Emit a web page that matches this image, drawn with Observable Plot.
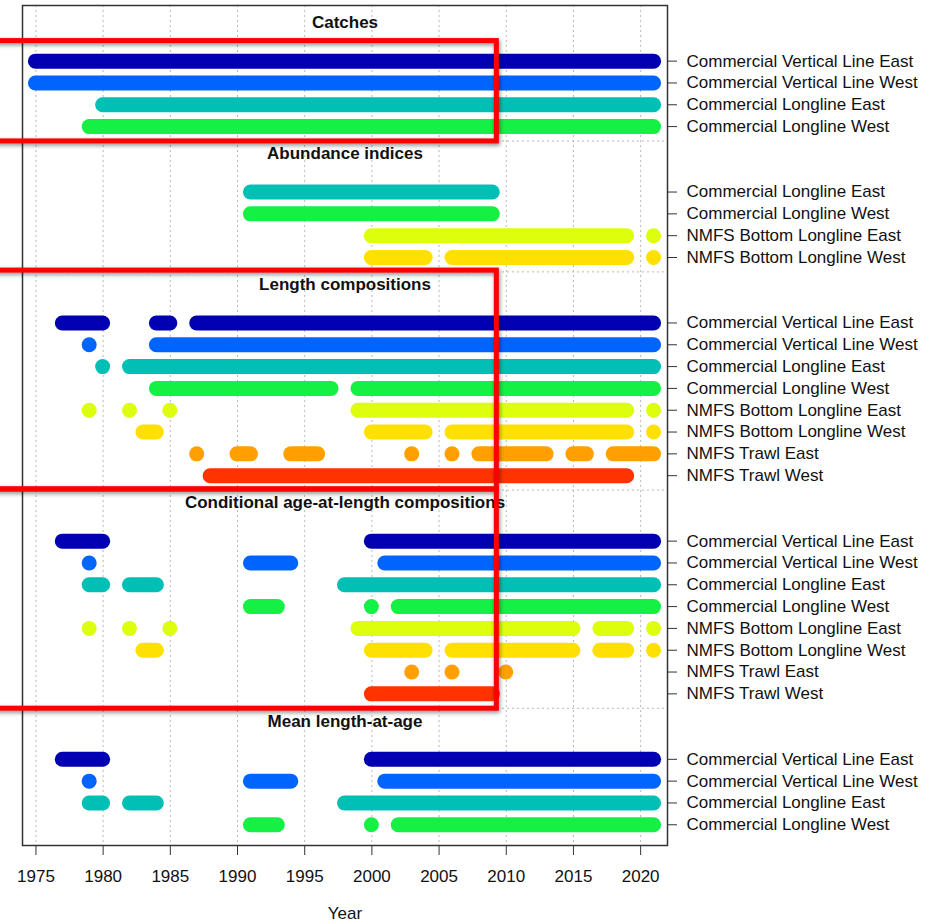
<!DOCTYPE html>
<html>
<head>
<meta charset="utf-8">
<script src="https://cdn.jsdelivr.net/npm/d3@7"></script>
<script src="https://cdn.jsdelivr.net/npm/@observablehq/plot@0.6"></script>
<style>
  html, body { margin: 0; padding: 0; background: #fff; }
  #chart svg { display: block; }
</style>
</head>
<body>
<div id="chart"></div>
<script>
// ---- Data ----
const fleets = [
  "Commercial Vertical Line East",
  "Commercial Vertical Line West",
  "Commercial Longline East",
  "Commercial Longline West",
  "NMFS Bottom Longline East",
  "NMFS Bottom Longline West",
  "NMFS Trawl East",
  "NMFS Trawl West"
];
const fleetColors = ["#0000B2", "#0064FF", "#00BFB4", "#14F044", "#DDFF0D", "#FFE000", "#FFA000", "#FF3300"];

const sectionTitles = [
  "Catches",
  "Abundance indices",
  "Length compositions",
  "Conditional age-at-length compositions",
  "Mean length-at-age"
];
// fleets (by index) listed in each section, top to bottom
const sectionFleets = [
  [0, 1, 2, 3],
  [2, 3, 4, 5],
  [0, 1, 2, 3, 4, 5, 6, 7],
  [0, 1, 2, 3, 4, 5, 6, 7],
  [0, 1, 2, 3]
];

// runs of years with data: [fleet index, first year, last year]
const catchRuns = [
  [0, 1975, 2021], [1, 1975, 2021], [2, 1980, 2021], [3, 1979, 2021]
];
const abundanceRuns = [
  [2, 1991, 2009], [3, 1991, 2009],
  [4, 2000, 2019], [4, 2021, 2021],
  [5, 2000, 2004], [5, 2006, 2019], [5, 2021, 2021]
];
const lengthRuns = [
  [0, 1977, 1980], [0, 1984, 1985], [0, 1987, 2021],
  [1, 1979, 1979], [1, 1984, 2021],
  [2, 1980, 1980], [2, 1982, 2021],
  [3, 1984, 1997], [3, 1999, 2021],
  [4, 1979, 1979], [4, 1982, 1982], [4, 1985, 1985], [4, 1999, 2019], [4, 2021, 2021],
  [5, 1983, 1984], [5, 2000, 2004], [5, 2006, 2019], [5, 2021, 2021],
  [6, 1987, 1987], [6, 1990, 1991], [6, 1994, 1996], [6, 2003, 2003], [6, 2006, 2006],
  [6, 2008, 2013], [6, 2015, 2016], [6, 2018, 2021],
  [7, 1988, 2019]
];
const ageLengthRuns = [
  [0, 1977, 1980], [0, 2000, 2021],
  [1, 1979, 1979], [1, 1991, 1994], [1, 2001, 2021],
  [2, 1979, 1980], [2, 1982, 1984], [2, 1998, 2021],
  [3, 1991, 1993], [3, 2000, 2000], [3, 2002, 2021],
  [4, 1979, 1979], [4, 1982, 1982], [4, 1985, 1985], [4, 1999, 2015], [4, 2017, 2019], [4, 2021, 2021],
  [5, 1983, 1984], [5, 2000, 2004], [5, 2006, 2015], [5, 2017, 2019], [5, 2021, 2021],
  [6, 2003, 2003], [6, 2006, 2006], [6, 2010, 2010],
  [7, 2000, 2009]
];
const meanLengthRuns = [
  [0, 1977, 1980], [0, 2000, 2021],
  [1, 1979, 1979], [1, 1991, 1994], [1, 2001, 2021],
  [2, 1979, 1980], [2, 1982, 1984], [2, 1998, 2021],
  [3, 1991, 1993], [3, 2000, 2000], [3, 2002, 2021]
];
const sectionRuns = [catchRuns, abundanceRuns, lengthRuns, ageLengthRuns, meanLengthRuns];

const yearTicks = [1975, 1980, 1985, 1990, 1995, 2000, 2005, 2010, 2015, 2020];
const xLabel = "Year";

// red annotation boxes drawn over the chart (years / row units)
const highlightBoxes = [
  {x1: 1960, x2: 2009.3, y1: -0.92, y2: 3.68},
  {x1: 1960, x2: 2009.3, y1: 9.6, y2: 19.63},
  {x1: 1960, x2: 2009.3, y1: 19.63, y2: 29.68}
];

// ---- Build rows ----
const sectionStart = [];
{
  let r = 0;
  sectionFleets.forEach((f, i) => { sectionStart.push(r); r += f.length + 2; });
}
const segs = [];
const rowTicks = [];
const rowLabel = new Map();
sectionFleets.forEach((fl, s) => {
  fl.forEach((f, j) => { const row = sectionStart[s] + j; rowTicks.push(row); rowLabel.set(row, fleets[f]); });
  sectionRuns[s].forEach(([f, a, b]) => {
    segs.push({fleet: fleets[f], row: sectionStart[s] + fl.indexOf(f), x1: a, x2: b});
  });
});
const titles = sectionTitles.map((t, s) => ({title: t, row: sectionStart[s] - 1.75}));
const separators = sectionFleets.slice(0, -1).map((fl, s) => sectionStart[s] + fl.length - 1 + 0.66);

const xDomain = [1974, 2022];
const xMid = (xDomain[0] + xDomain[1]) / 2;

const chart = Plot.plot({
  width: 927,
  height: 922,
  marginLeft: 22,
  marginRight: 260,
  marginTop: 5,
  marginBottom: 77,
  style: {fontFamily: "'Liberation Sans', Arial, Helvetica, sans-serif", fontSize: "17px", background: "#fff", color: "#111"},
  x: {domain: xDomain},
  y: {domain: [-2.55, 35.95], reverse: true},
  color: {domain: fleets, range: fleetColors},
  marks: [
    Plot.ruleX(yearTicks, {stroke: "#b8b8b8", strokeWidth: 1, strokeDasharray: "2,3"}),
    Plot.ruleY(separators, {stroke: "#b8b8b8", strokeWidth: 1, strokeDasharray: "2,3"}),
    Plot.ruleY(segs, {y: "row", x1: "x1", x2: "x2", stroke: "fleet", strokeWidth: 15, strokeLinecap: "round"}),
    Plot.frame({stroke: "#333", strokeWidth: 1.5}),
    Plot.axisX(yearTicks, {tickSize: 10, tickPadding: 14, fontSize: 17, label: null, tickFormat: d => String(d), stroke: "#333"}),
    Plot.text([xLabel], {frameAnchor: "bottom", dy: 73, fontSize: 17}),
    Plot.axisY(rowTicks, {anchor: "right", tickSize: 9, tickPadding: 10, fontSize: 17, label: null, tickFormat: d => rowLabel.get(d), stroke: "#333"}),
    Plot.text(titles, {x: () => xMid, y: "row", text: "title", fontWeight: "bold", fontSize: 17}),
    Plot.rect(highlightBoxes, {x1: "x1", x2: "x2", y1: "y1", y2: "y2", fill: "none", stroke: "#FF0000", strokeWidth: 5,
      imageFilter: "drop-shadow(1px 2px 2px rgba(0,0,0,0.45))"})
  ]
});
document.getElementById("chart").appendChild(chart);
</script>
</body>
</html>
